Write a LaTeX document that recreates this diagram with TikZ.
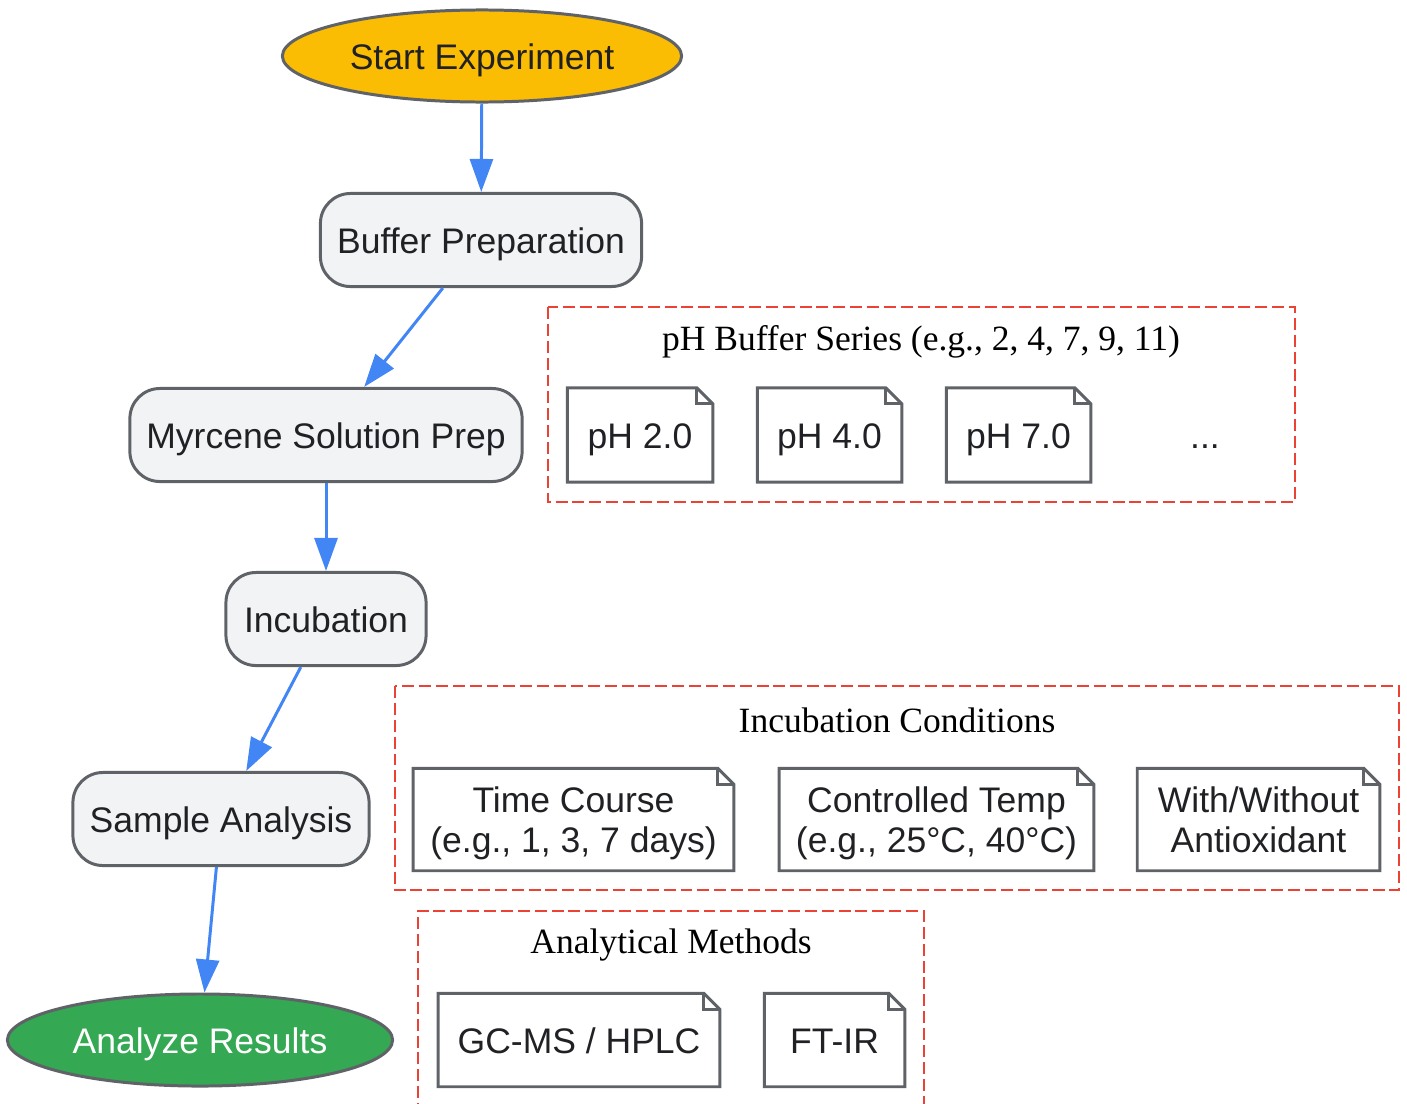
\documentclass[tikz,border=0pt]{standalone}
\usepackage{fontspec}
\setmainfont{Liberation Serif}
\setsansfont{Liberation Sans}
\usepackage{xcolor}
\usetikzlibrary{shapes.geometric,arrows.meta}

\definecolor{StartYellow}{HTML}{FBBC04}
\definecolor{EndGreen}{HTML}{34A853}
\definecolor{StepFill}{HTML}{F1F3F4}
\definecolor{LineGray}{HTML}{5F6368}
\definecolor{FlowBlue}{HTML}{4285F4}
\definecolor{GroupRed}{HTML}{EA4335}
\definecolor{TextDark}{HTML}{202124}

\newcommand{\TopStrut}{\rule{0pt}{0.95em}}
\newcommand{\BottomStrut}{\rule[-0.21em]{0pt}{0.21em}}
\newcommand{\NoteLabel}[1]{\TopStrut#1\BottomStrut}

\begin{document}
\begin{tikzpicture}[x=0.01cm, y=-0.01cm,
				font=\sffamily\fontsize{10.1}{11.3}\selectfont, text=TextDark,
				Boxed/.style={execute at begin node=\TopStrut, execute at end node=\BottomStrut},
				Step/.style={Boxed, draw=LineGray, line width=0.85pt, fill=StepFill,
					rounded corners=0.3cm, minimum height=0.93cm},
				Terminal/.style={Boxed, ellipse, draw=LineGray, line width=0.85pt, inner xsep=0pt,
					minimum width=3.99cm, minimum height=0.92cm},
				Item/.style={align=center, inner ysep=1pt, minimum height=0.93cm},
				Group/.style={draw=GroupRed, line width=0.75pt,
					dash pattern=on 3.4pt off 1.4pt},
				GroupTitle/.style={font=\rmfamily\fontsize{10.1}{12}\selectfont, text=black},
				Flow/.style={draw=FlowBlue, line width=0.85pt,
					-{Triangle[length=0.33cm, width=0.23cm]}}]
				%\draw[help lines] (0,0) grid[step=1cm] (1407,1103);
				\useasboundingbox (0,0) rectangle (1407,1103);
				
				% main flow
				\node[Terminal, fill=StartYellow] (start) at (482,56) {Start Experiment};
				\node[Step, minimum width=3.21cm] (buffer) at (481,240) {Buffer Preparation};
				\node[Step, minimum width=3.92cm] (myrcene) at (326,435) {Myrcene Solution Prep};
				\node[Step, minimum width=2.00cm] (incub) at (326,619) {Incubation};
				\node[Step, minimum width=2.96cm] (sample) at (221,819) {Sample Analysis};
				\node[Terminal, fill=EndGreen, text=white, minimum width=3.85cm] (results) at (200,1040) {Analyze Results};
				
				\draw[Flow] (start) -- (buffer);
				\draw[Flow] (buffer) -- (myrcene);
				\draw[Flow] (myrcene) -- (incub);
				\draw[Flow] (incub) -- (sample);
				\draw[Flow] (sample) -- (results);
				
				% pH buffer series
				\draw[Group] (548,307) rectangle (1295,502);
				\node[GroupTitle] (phtitle) at (921,342) {pH Buffer Series (e.g., 2, 4, 7, 9, 11)};
				\node[Item, minimum width=1.44cm] (ph2) at (640,435) {\NoteLabel{pH 2.0}};
				\node[Item, minimum width=1.43cm] (ph4) at (829.5,435) {\NoteLabel{pH 4.0}};
				\node[Item, minimum width=1.43cm] (ph7) at (1018.5,435) {\NoteLabel{pH 7.0}};
				\node[Boxed] (phmore) at (1205,435) {...};
				
				% incubation conditions
				\draw[Group] (395,686) rectangle (1399,890);
				\node[GroupTitle] (inctitle) at (897,720) {Incubation Conditions};
				\node[Item, minimum width=3.19cm, minimum height=1.01cm] (time) at (573.5,819.5) {\NoteLabel{Time Course\\(e.g., 1, 3, 7 days)}};
				\node[Item, minimum width=3.13cm, minimum height=1.01cm] (temp) at (936.5,819.5) {\NoteLabel{Controlled Temp\\(e.g., 25°C, 40°C)}};
				\node[Item, minimum width=2.41cm, minimum height=1.01cm] (antiox) at (1258.5,819.5) {\NoteLabel{With/Without\\Antioxidant}};
				
				% analytical methods
				\draw[Group] (418,1115) -- (418,911) -- (924,911) -- (924,1115);
				\node[GroupTitle] (anatitle) at (671,945) {Analytical Methods};
				\node[Item, minimum width=2.80cm, minimum height=0.92cm] (gcms) at (579,1040) {\NoteLabel{GC-MS / HPLC}};
				\node[Item, minimum width=1.39cm, minimum height=0.92cm] (ftir) at (834.5,1040) {\NoteLabel{FT-IR}};
				
				% folded corners
				\foreach \n in {ph2,ph4,ph7,time,temp,antiox,gcms,ftir}{
					\draw[LineGray, line width=0.85pt, line join=miter]
						(\n.south west) -- (\n.north west) -- ([xshift=-0.16cm]\n.north east)
						-- ([yshift=-0.16cm]\n.north east) -- (\n.south east) -- cycle;
					\draw[LineGray, line width=0.85pt]
						([xshift=-0.16cm]\n.north east) |- ([yshift=-0.16cm]\n.north east);
				}
\end{tikzpicture}
\end{document}
